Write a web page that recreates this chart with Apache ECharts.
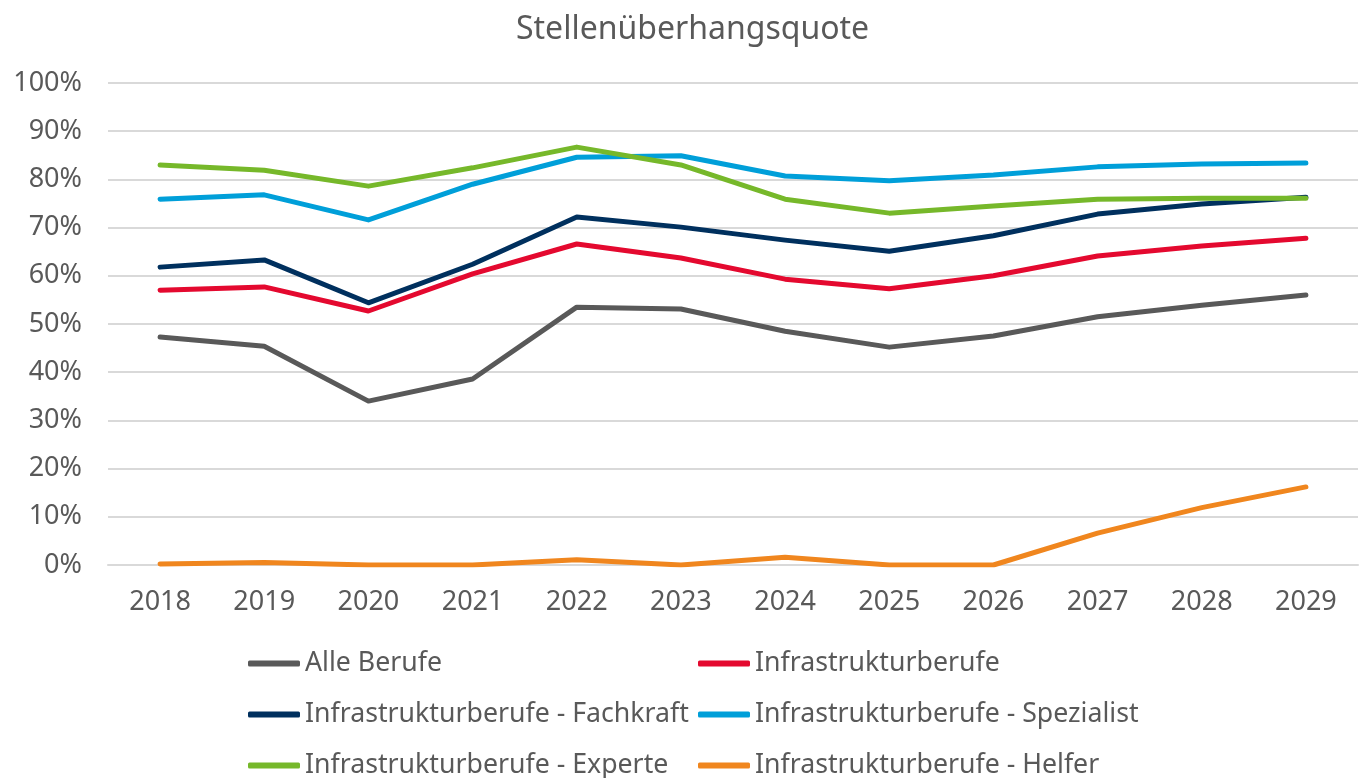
<!DOCTYPE html>
<html><head><meta charset="utf-8">
<script src="https://cdn.jsdelivr.net/npm/echarts@6/dist/echarts.min.js"></script>
<style>html,body{margin:0;padding:0;background:#fff}#c{width:1364px;height:778px}</style>
</head><body><div id="c"></div>
<script>
const years = ['2018','2019','2020','2021','2022','2023','2024','2025','2026','2027','2028','2029'];
const alleBerufe = [47.3,45.4,34.0,38.6,53.5,53.1,48.5,45.2,47.5,51.5,53.9,56.0];
const infra = [57.0,57.7,52.7,60.4,66.6,63.7,59.3,57.3,60.0,64.1,66.2,67.8];
const fachkraft = [61.8,63.3,54.4,62.4,72.2,70.1,67.4,65.1,68.3,72.8,74.9,76.3];
const spezialist = [75.9,76.8,71.6,79.0,84.6,84.9,80.7,79.7,80.9,82.6,83.2,83.4];
const experte = [83.0,81.9,78.6,82.4,86.7,83.0,75.9,73.0,74.5,75.9,76.1,76.1];
const helfer = [0.2,0.5,0.0,0.0,1.1,0.0,1.6,0.0,0.0,6.6,11.9,16.2];
const names = ['Alle Berufe','Infrastrukturberufe','Infrastrukturberufe - Fachkraft','Infrastrukturberufe - Spezialist','Infrastrukturberufe - Experte','Infrastrukturberufe - Helfer'];
const colors = ['#595959','#E4092F','#00305E','#009FD9','#76B82A','#F0861E'];
const values = [alleBerufe, infra, fachkraft, spezialist, experte, helfer];

const font = 'Noto Sans';
const chart = echarts.init(document.getElementById('c'));
const legendPos = [[248,650],[698,650],[248,701],[698,701],[248,752],[698,752]];
const legends = names.map((n, i) => ({
  data: [n], left: legendPos[i][0], top: legendPos[i][1],
  itemWidth: 52, itemHeight: 6, icon: 'roundRect', padding: 0,
  textStyle: {fontFamily: font, fontSize: 26.7, color: '#595959', padding: [0,0,0,0]}
}));
chart.setOption({
  animation: false,
  color: colors,
  title: {text: 'Stellenüberhangsquote', left: 511, top: 9,
    textStyle: {fontFamily: font, fontSize: 32, fontWeight: 'normal', color: '#595959'}},
  grid: {left: 108, right: 6, top: 83, bottom: 213, containLabel: false},
  legend: legends,
  xAxis: {type: 'category', data: years, boundaryGap: true,
    axisLine: {lineStyle: {color: '#D9D9D9', width: 2}}, axisTick: {show: false},
    axisLabel: {fontFamily: font, fontSize: 27, color: '#595959', margin: 24}},
  yAxis: {type: 'value', min: 0, max: 100, interval: 10,
    axisLine: {show: false}, axisTick: {show: false},
    splitLine: {lineStyle: {color: '#D9D9D9', width: 2}},
    axisLabel: {fontFamily: font, fontSize: 27, color: '#595959', margin: 26, formatter: '{value}%'}},
  series: names.map((n, i) => ({
    name: n, type: 'line', data: values[i], symbol: 'none', smooth: false,
    lineStyle: {width: 5, color: colors[i], cap: 'round', join: 'round'},
    itemStyle: {color: colors[i]}
  }))
});
</script></body></html>
